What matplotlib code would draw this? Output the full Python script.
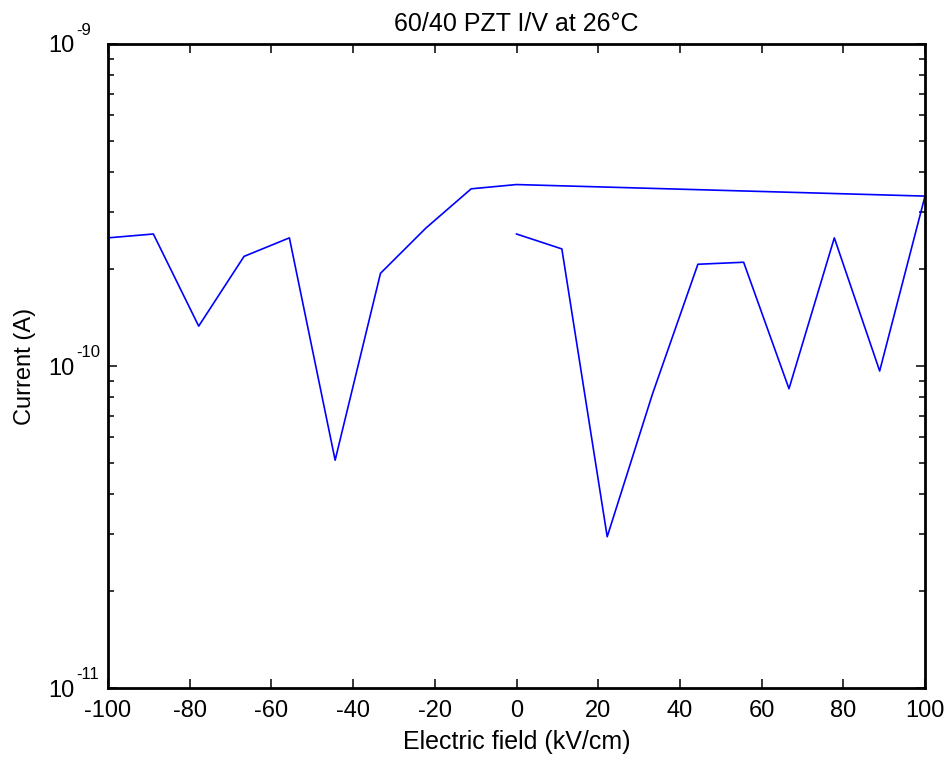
import numpy as np
import matplotlib
matplotlib.use("Agg")
import matplotlib.pyplot as plt
import matplotlib.transforms as mtransforms
from matplotlib.ticker import FixedLocator, FuncFormatter

# Fonts: Arial-like look, plain hyphen for negatives.
plt.rcParams["font.family"] = ["Liberation Sans", "DejaVu Sans"]
plt.rcParams["axes.unicode_minus"] = False

# Field sweep: -100 -> 0, then 100 -> 0 (kV/cm)
field_neg = [-100.0, -88.9, -77.8, -66.7, -55.6, -44.4, -33.3, -22.2, -11.1, 0.0]
current_neg = [2.50e-10, 2.57e-10, 1.33e-10, 2.19e-10, 2.50e-10,
               5.1e-11, 1.94e-10, 2.68e-10, 3.55e-10, 3.66e-10]

field_pos = [100.0, 88.9, 77.8, 66.7, 55.6, 44.4, 33.3, 22.2, 11.1, 0.0]
current_pos = [3.37e-10, 9.65e-11, 2.50e-10, 8.5e-11, 2.10e-10,
               2.07e-10, 8.2e-11, 2.95e-11, 2.31e-10, 2.57e-10]

field = field_neg + field_pos
current = current_neg + current_pos

# y decades and their exponent labels
y_major = [1e-11, 1e-10, 1e-9]
y_exponents = ["-11", "-10", "-9"]

fig = plt.figure(figsize=(9.5, 7.57), dpi=100)
ax = fig.add_axes([0.1137, 0.0911, 0.86, 0.8508])

ax.plot(field, current, color="#0000ff", linewidth=1.2)

ax.set_yscale("log")
ax.set_xlim(-100, 100)
ax.set_ylim(1e-11, 1e-9)
ax.set_xticks(np.arange(-100, 101, 20))

# MATLAB-style "10" with a small raised exponent
ax.yaxis.set_major_locator(FixedLocator(y_major))
ax.yaxis.set_major_formatter(FuncFormatter(lambda v, p: "10"))
exp_trans = mtransforms.offset_copy(ax.get_yaxis_transform(), fig=fig,
                                    x=-32, y=9, units="dots")
for val, ex in zip(y_major, y_exponents):
    ax.text(0, val, ex, transform=exp_trans, ha="left", va="baseline",
            fontsize=12, clip_on=False)

ax.set_title("60/40 PZT I/V at 26°C", fontsize=18, pad=9.5)
ax.set_xlabel("Electric field (kV/cm)", fontsize=18, labelpad=6)
ax.set_ylabel("Current (A)", fontsize=17, labelpad=9)

ax.tick_params(which="both", direction="in", top=True, right=True, width=1.1)
ax.tick_params(which="major", length=6.5)
ax.tick_params(which="minor", length=4.3)
ax.tick_params(axis="x", which="major", pad=8.7, labelsize=17)
ax.tick_params(axis="y", which="major", pad=24, labelsize=17)
ax.tick_params(axis="x", which="minor", top=False, bottom=False)
for s in ax.spines.values():
    s.set_linewidth(2.0)

fig.savefig("out.png", dpi=100)
